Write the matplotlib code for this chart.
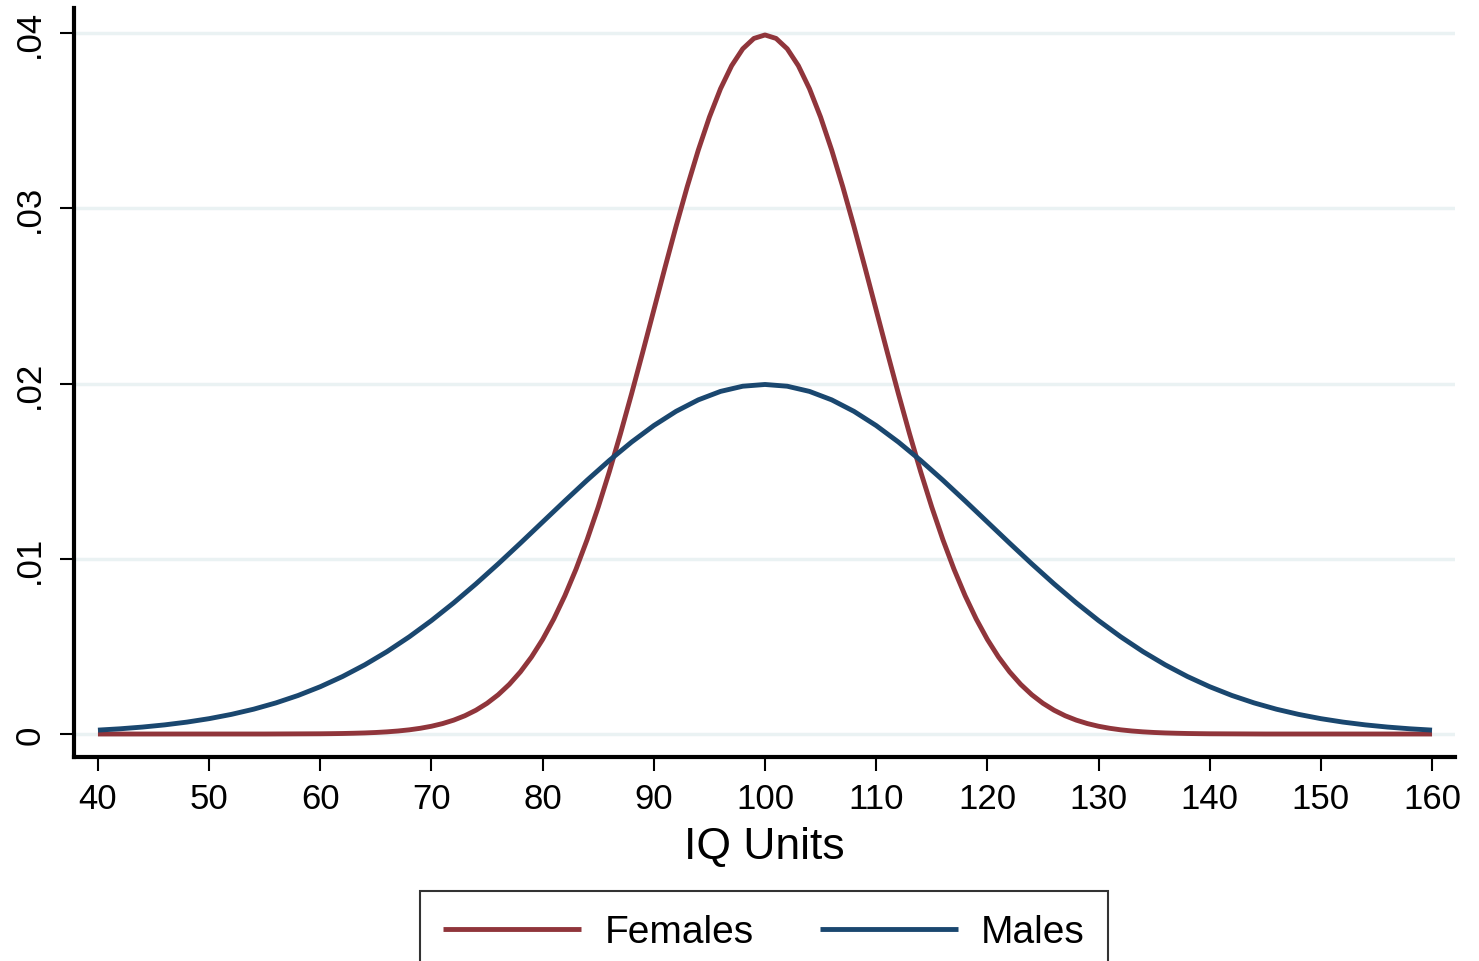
import matplotlib
matplotlib.use("Agg")
import matplotlib.pyplot as plt

# Densities (females every 1 IQ unit in the middle,
# males every 2 units)
females_iq = [40, 45, 50, 55] + list(range(60, 141)) + [145, 150, 155, 160]
females = [0, 0, 0, 0,
           0.000013, 0.000020, 0.000029, 0.000043, 0.000061, 0.000087, 0.000123,
           0.000172, 0.000238, 0.000327, 0.000443, 0.000595, 0.000792, 0.001042,
           0.001358, 0.001753, 0.002240, 0.002833, 0.003548, 0.004398, 0.005399,
           0.006562, 0.007895, 0.009405, 0.011092, 0.012952, 0.014973, 0.017137,
           0.019419, 0.021785, 0.024197, 0.026609, 0.028969, 0.031225, 0.033322,
           0.035207, 0.036827, 0.038139, 0.039104, 0.039695,
           0.039894,
           0.039695, 0.039104, 0.038139, 0.036827, 0.035207, 0.033322, 0.031225,
           0.028969, 0.026609, 0.024197, 0.021785, 0.019419, 0.017137, 0.014973,
           0.012952, 0.011092, 0.009405, 0.007895, 0.006562, 0.005399, 0.004398,
           0.003548, 0.002833, 0.002240, 0.001753, 0.001358, 0.001042, 0.000792,
           0.000595, 0.000443, 0.000327, 0.000238, 0.000172, 0.000123, 0.000087,
           0.000061, 0.000043, 0.000029, 0.000020, 0.000013,
           0, 0, 0, 0]

males_iq = list(range(40, 161, 2))
males = [0.000222, 0.000298, 0.000396, 0.000521, 0.000679, 0.000876, 0.001120,
         0.001416, 0.001774, 0.002199, 0.002700, 0.003281, 0.003948, 0.004702,
         0.005546, 0.006476, 0.007486, 0.008568, 0.009709, 0.010893, 0.012099,
         0.013304, 0.014485, 0.015613, 0.016661, 0.017603, 0.018414, 0.019069,
         0.019552, 0.019848,
         0.019947,
         0.019848, 0.019552, 0.019069, 0.018414, 0.017603, 0.016661, 0.015613,
         0.014485, 0.013304, 0.012099, 0.010893, 0.009709, 0.008568, 0.007486,
         0.006476, 0.005546, 0.004702, 0.003948, 0.003281, 0.002700, 0.002199,
         0.001774, 0.001416, 0.001120, 0.000876, 0.000679, 0.000521, 0.000396,
         0.000298, 0.000222]

x_ticks = [40, 50, 60, 70, 80, 90, 100, 110, 120, 130, 140, 150, 160]
y_ticks = [0, 0.01, 0.02, 0.03, 0.04]
y_tick_labels = ["0", ".01", ".02", ".03", ".04"]

plt.rcParams['font.family'] = ['Liberation Sans', 'DejaVu Sans']

fig = plt.figure(figsize=(14.79, 9.62), dpi=100)
ax = fig.add_axes([0.0500, 0.2121, 0.9338, 0.7785])

ax.plot(females_iq, females, color='#90353B', lw=3.5, label='Females',
        solid_capstyle='butt', solid_joinstyle='round', zorder=3)
ax.plot(males_iq, males, color='#1A476F', lw=3.5, label='Males',
        solid_capstyle='butt', solid_joinstyle='round', zorder=3)

ax.set_xlim(37.84, 162.07)
ax.set_ylim(-0.00131, 0.04143)

ax.set_xticks(x_ticks)
ax.set_yticks(y_ticks)
ax.set_yticklabels(y_tick_labels, rotation=90, va='center')
for y in y_ticks:
    ax.axhline(y, color='#EAF2F3', lw=2.5, zorder=1)

for side in ['top', 'right']:
    ax.spines[side].set_visible(False)
for side in ['left', 'bottom']:
    ax.spines[side].set_linewidth(3)
ax.tick_params(axis='both', length=10, width=1.5, direction='out', labelsize=25)
ax.tick_params(axis='x', pad=8)
ax.tick_params(axis='y', pad=10)

ax.set_xlabel("IQ Units", fontsize=32, labelpad=8)

leg = ax.legend(loc='upper center', bbox_to_anchor=(0.5166, 0.0728),
                bbox_transform=fig.transFigure, ncol=2, fontsize=28,
                frameon=True, fancybox=False, handlelength=3.55,
                handletextpad=0.6, columnspacing=1.7, borderpad=0.6,
                borderaxespad=0)
leg.get_frame().set_edgecolor('black')
leg.get_frame().set_linewidth(1.5)
for line in leg.get_lines():
    line.set_linewidth(3.5)

fig.savefig("out.png", dpi=100)
